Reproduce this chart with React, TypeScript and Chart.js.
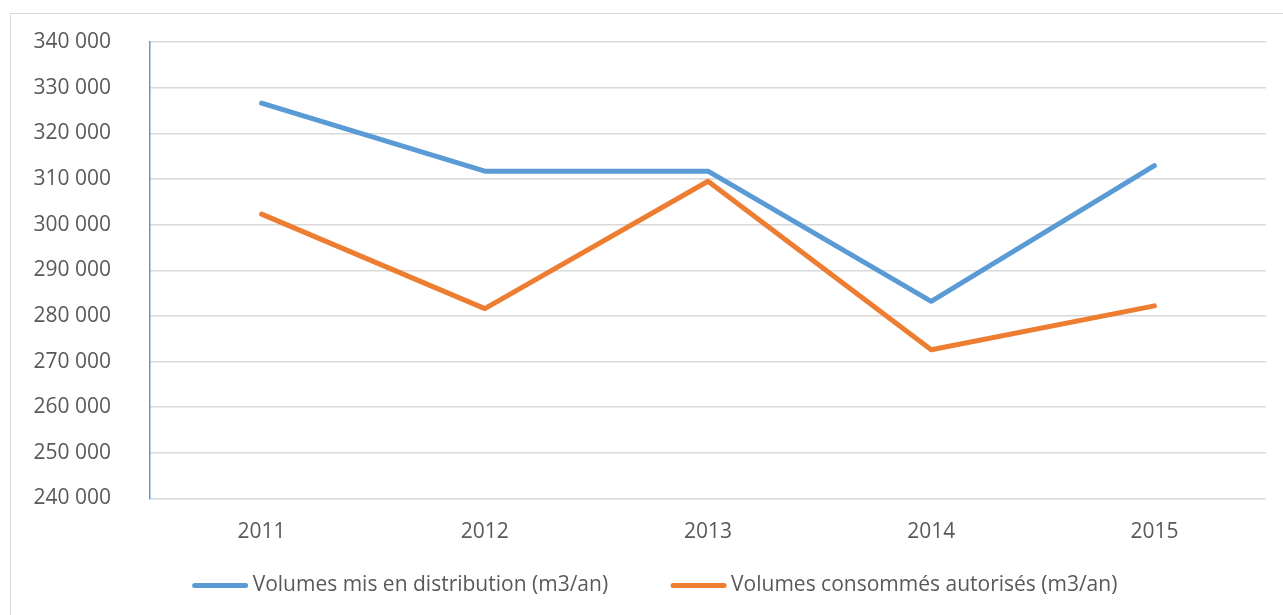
import React, { useEffect, useRef } from "react";
import { Chart, registerables } from "chart.js";

Chart.register(...registerables);

const categories = ["2011", "2012", "2013", "2014", "2015"];
const distribues = [326600, 311700, 311700, 283200, 312900];
const consommes = [302300, 281600, 309500, 272600, 282200];
const seriesLabels = [
  "Volumes mis en distribution (m3/an)",
  "Volumes consommés autorisés (m3/an)",
];
const seriesColors = ["#5b9bd5", "#ed7d31"];
const yMin = 240000;
const yMax = 340000;
const yStep = 10000;

const FONT = "'Open Sans', sans-serif";
const TEXT = "#595959";
const FSIZE = 21;

function fmt(v: number): string {
  return String(v).replace(/\B(?=(\d{3})+(?!\d))/g, " ");
}

const legendPlugin = {
  id: "customLegend",
  afterDraw(chart: any) {
    const ctx = chart.ctx;
    const lineLen = 55;
    const textGap = 5;
    const itemGap = 63;
    ctx.save();
    ctx.font = `${FSIZE}px ${FONT}`;
    const items = chart.data.datasets.map((d: any) => ({
      label: d.label,
      color: d.borderColor,
      w: ctx.measureText(d.label).width,
    }));
    let total = 0;
    items.forEach((it: any, i: number) => {
      total += lineLen + textGap + it.w + (i > 0 ? itemGap : 0);
    });
    let x = chart.width / 2 + 4 - total / 2;
    const y = chart.chartArea.bottom + 87;
    items.forEach((it: any) => {
      ctx.strokeStyle = it.color;
      ctx.lineWidth = 5;
      ctx.lineCap = "round";
      ctx.beginPath();
      ctx.moveTo(x + 2, y);
      ctx.lineTo(x + lineLen - 2, y);
      ctx.stroke();
      x += lineLen + textGap;
      ctx.fillStyle = TEXT;
      ctx.textBaseline = "middle";
      ctx.textAlign = "left";
      ctx.fillText(it.label, x, y);
      x += it.w + itemGap;
    });
    ctx.restore();
  },
};

export default function App() {
  const ref = useRef<HTMLCanvasElement | null>(null);

  useEffect(() => {
    document.body.style.overflow = "hidden";
    const ctx = ref.current;
    if (!ctx) return;
    const chart = new Chart(ctx, {
      type: "line",
      data: {
        labels: categories,
        datasets: [
          {
            label: seriesLabels[0],
            data: distribues,
            borderColor: seriesColors[0],
            backgroundColor: seriesColors[0],
            borderWidth: 5,
            pointRadius: 0,
            borderJoinStyle: "round",
            borderCapStyle: "round",
            tension: 0,
          },
          {
            label: seriesLabels[1],
            data: consommes,
            borderColor: seriesColors[1],
            backgroundColor: seriesColors[1],
            borderWidth: 5,
            pointRadius: 0,
            borderJoinStyle: "round",
            borderCapStyle: "round",
            tension: 0,
          },
        ],
      },
      options: {
        animation: false,
        responsive: false,
        maintainAspectRatio: false,
        layout: { padding: { top: 28, right: 25, left: 0, bottom: 65.5 } },
        plugins: {
          tooltip: { enabled: false },
          legend: { display: false },
        },
        scales: {
          x: {
            offset: true,
            grid: { display: false, drawTicks: false },
            border: { display: false },
            ticks: {
              color: TEXT,
              font: { family: FONT, size: FSIZE },
              padding: 21,
            },
            afterFit: (s: any) => {
              s.height = 50;
            },
          },
          y: {
            min: yMin,
            max: yMax,
            ticks: {
              stepSize: yStep,
              color: TEXT,
              font: { family: FONT, size: FSIZE },
              padding: 39,
              callback: (v: any) => fmt(Number(v)),
            },
            grid: { color: "#d9d9d9", lineWidth: 1.5, drawTicks: false },
            border: { display: true, color: "#5b9bd5", width: 1.5 },
            afterFit: (s: any) => {
              s.width = 139;
              s.paddingTop = 0;
              s.paddingBottom = 0;
            },
          },
        },
      },
      plugins: [legendPlugin],
    });
    return () => chart.destroy();
  }, []);

  return (
    <div
      style={{
        position: "absolute",
        left: 10,
        top: 13,
        width: 1290,
        height: 615,
        border: "1.5px solid #d9d9d9",
        boxSizing: "border-box",
        background: "#fff",
      }}
    >
      <canvas ref={ref} width={1280} height={600} style={{ display: "block" }} />
    </div>
  );
}
